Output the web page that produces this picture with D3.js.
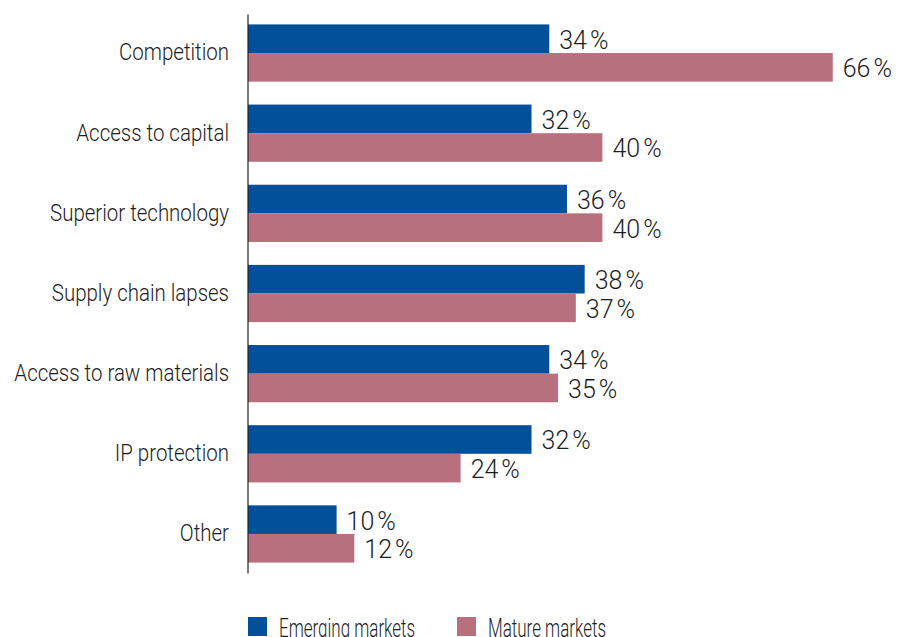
<!DOCTYPE html>
<html>
<head>
<meta charset="utf-8">
<script src="https://cdn.jsdelivr.net/npm/d3@7"></script>
<style>
  html, body { margin: 0; padding: 0; background: #fff; }
  svg { display: block; }
  text { font-family: Roboto, "Liberation Sans", Arial, sans-serif; font-weight: 300; fill: #1e1e1e; }
</style>
</head>
<body>
<svg id="chart" width="902" height="637"></svg>
<script>
// Survey categories and shares (%) for each market group
const categories = [
  "Competition",
  "Access to capital",
  "Superior technology",
  "Supply chain lapses",
  "Access to raw materials",
  "IP protection",
  "Other"
];
const emerging = [34, 32, 36, 38, 34, 32, 10];
const mature   = [66, 40, 40, 37, 35, 24, 12];
const seriesNames = ["Emerging markets", "Mature markets"];
const colors = ["#02509a", "#b8707f"];

const svg = d3.select("#chart");
const axisX = 247.5;

// Condensed look: category and legend text is squeezed horizontally
const labelSqueeze = 0.89;
const legendSqueeze = 0.68;

const rows = categories.map((c, i) => ({ cat: c, values: [emerging[i], mature[i]] }));

const y = d3.scaleBand()
  .domain(categories)
  .range([14, 573])
  .paddingInner(0.286)
  .paddingOuter(0.13);

const ySub = d3.scaleBand()
  .domain([0, 1])
  .range([0, y.bandwidth()]);

const x = d3.scaleLinear()
  .domain([0, 70])
  .range([248, 248 + 70 * 8.86]);

// Bars
const groups = svg.append("g")
  .selectAll("g")
  .data(rows)
  .join("g")
  .attr("transform", d => `translate(0,${y(d.cat)})`);

groups.selectAll("rect")
  .data(d => d.values.map((v, k) => ({ v, k })))
  .join("rect")
  .attr("x", x(0))
  .attr("y", d => ySub(d.k))
  .attr("width", d => x(d.v) - x(0))
  .attr("height", ySub.bandwidth())
  .attr("fill", d => colors[d.k]);

// Value labels
const vals = groups.selectAll("text.val")
  .data(d => d.values.map((v, k) => ({ v, k })))
  .join("text")
  .attr("class", "val")
  .attr("x", d => x(d.v) + 10)
  .attr("y", d => ySub(d.k) + ySub.bandwidth() / 2 + 1)
  .attr("dominant-baseline", "central")
  .style("font-size", "25px");
vals.append("tspan").text(d => d.v);
vals.append("tspan").attr("dx", 3).text("%");

// Category axis
const axis = svg.append("g")
  .attr("transform", `translate(${axisX},0)`)
  .call(d3.axisLeft(y).tickSize(0).tickPadding(18));
axis.select(".domain").attr("stroke", "#222").attr("stroke-width", 1.2);
axis.selectAll(".tick text")
  .attr("x", -18.5 / labelSqueeze)
  .attr("transform", `scale(${labelSqueeze},1)`)
  .style("font-size", "23px")
  .style("font-family", "Roboto, 'Liberation Sans', Arial, sans-serif")
  .style("font-weight", 300)
  .attr("fill", "#1e1e1e");

// Legend
const legend = svg.append("g")
  .selectAll("g")
  .data(seriesNames)
  .join("g")
  .attr("transform", (d, i) => `translate(${[248, 457][i]},617)`);
legend.append("rect")
  .attr("width", 19)
  .attr("height", 19)
  .attr("fill", (d, i) => colors[i]);
legend.append("text")
  .attr("transform", `translate(31,19.5) scale(${legendSqueeze},1)`)
  .style("font-size", "25px")
  .text(d => d);
</script>
</body>
</html>
